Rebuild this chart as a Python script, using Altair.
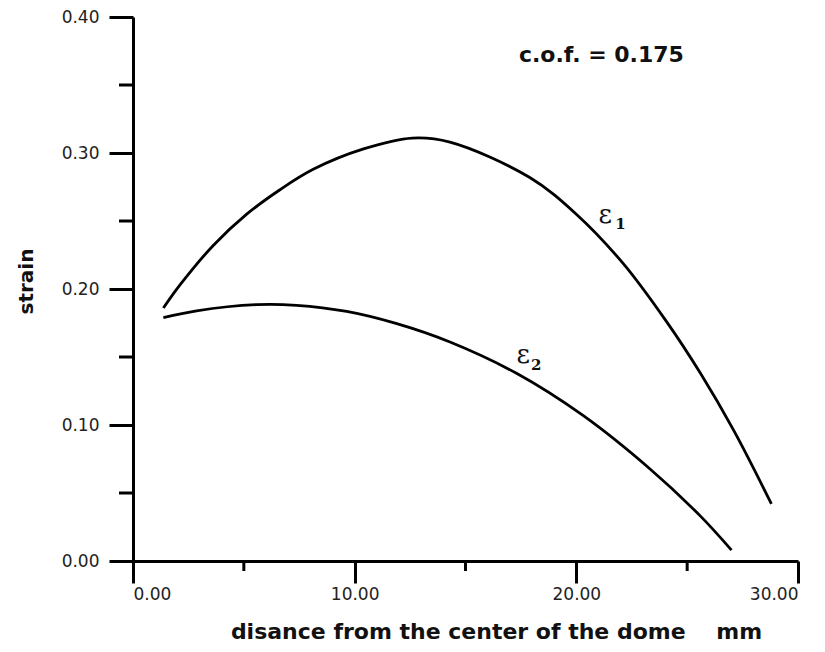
import altair as alt
import pandas as pd

# --- data ---
e1_x = [1.37, 2.12, 3.62, 5.13, 6.63, 8.13, 10.4, 12.6, 14.3, 17.9, 20.0, 22.1, 24.07, 25.6, 27.1, 28.8]
e1_y = [0.186, 0.203, 0.232, 0.255, 0.273, 0.288, 0.303, 0.311, 0.308, 0.282, 0.255, 0.219, 0.176, 0.138, 0.096, 0.042]

e2_x = [1.37, 2.87, 5.58, 7.38, 9.64, 11.9, 14.3, 17.3, 20.3, 23.3, 25.6, 27.0]
e2_y = [0.179, 0.184, 0.1885, 0.188, 0.1835, 0.1745, 0.161, 0.138, 0.107, 0.068, 0.033, 0.008]

x_major = [0, 10, 20, 30]
x_minor = [5, 15, 25]
y_major = [0.0, 0.1, 0.2, 0.3, 0.4]
y_minor = [0.05, 0.15, 0.25, 0.35]

# annotations (data coordinates)
ann_text = ["c.o.f. = 0.175"]
ann_x = [17.41]
ann_y = [0.367]

eps_text = ["ε", "ε"]
eps_x = [21.0, 17.3]
eps_y = [0.2485, 0.1456]
sub_text = ["1", "2"]
sub_x = [21.75, 17.95]
sub_y = [0.244, 0.1404]

W, H = 665, 544

curves = pd.DataFrame(
    {"x": e1_x + e2_x,
     "y": e1_y + e2_y,
     "series": ["e1"] * len(e1_x) + ["e2"] * len(e2_x)}
)

xs = alt.Scale(domain=[0, 30], nice=False, zero=False)
ys = alt.Scale(domain=[0, 0.4], nice=False, zero=False)

lines = alt.Chart(curves).mark_line(
    color="black", strokeWidth=2.8, interpolate="catmull-rom"
).encode(
    x=alt.X("x:Q", scale=xs, axis=alt.Axis(
        values=x_major, format=".2f", tickSize=22, labelPadding=3,
        title="disance from the center of the dome\u00a0\u00a0\u00a0\u00a0mm",
        titleX=363, titleY=77, titleBaseline="alphabetic", titleAlign="center",
        titleFontSize=22,
    )),
    y=alt.Y("y:Q", scale=ys, axis=alt.Axis(
        values=y_major, format=".2f", tickSize=24, labelPadding=10,
        title="strain", titleX=-101, titleY=264, titleBaseline="alphabetic",
        titleAlign="center", titleAngle=-90, titleFontSize=20,
    )),
    detail="series:N",
)

minor_y = alt.Chart(pd.DataFrame({"y": y_minor})).mark_rule(
    color="black", strokeWidth=3
).encode(y=alt.Y("y:Q", scale=ys), x=alt.value(-14), x2=alt.value(0))

minor_x = alt.Chart(pd.DataFrame({"x": x_minor})).mark_rule(
    color="black", strokeWidth=3
).encode(x=alt.X("x:Q", scale=xs), y=alt.value(H), y2=alt.value(H + 10))

cof = alt.Chart(pd.DataFrame({"t": ann_text, "x": ann_x, "y": ann_y})).mark_text(
    align="left", baseline="alphabetic", font="DejaVu Sans", fontWeight="bold",
    fontSize=22, color="#111"
).encode(x=alt.X("x:Q", scale=xs), y=alt.Y("y:Q", scale=ys), text="t:N")

eps = alt.Chart(pd.DataFrame({"t": eps_text, "x": eps_x, "y": eps_y})).mark_text(
    align="left", baseline="alphabetic", font="DejaVu Serif",
    fontSize=26, color="#111"
).encode(x=alt.X("x:Q", scale=xs), y=alt.Y("y:Q", scale=ys), text="t:N")

subs = alt.Chart(pd.DataFrame({"t": sub_text, "x": sub_x, "y": sub_y})).mark_text(
    align="left", baseline="alphabetic", font="DejaVu Serif", fontWeight="bold",
    fontSize=15, color="#111"
).encode(x=alt.X("x:Q", scale=xs), y=alt.Y("y:Q", scale=ys), text="t:N")

chart = alt.layer(lines, minor_y, minor_x, cof, eps, subs).properties(
    width=W, height=H,
    autosize=alt.AutoSizeParams(type="none"),
    padding={"left": 125, "top": 9, "right": 19, "bottom": 83},
).configure_view(stroke=None).configure_axis(
    grid=False, domainColor="black", domainWidth=3, tickColor="black",
    tickWidth=3, labelFont="DejaVu Sans", labelFontSize=17, labelColor="#222",
    titleFont="DejaVu Sans", titleFontWeight="bold", titleColor="#111",
)

chart.save("out.html", embed_options={"renderer": "svg", "actions": False})
